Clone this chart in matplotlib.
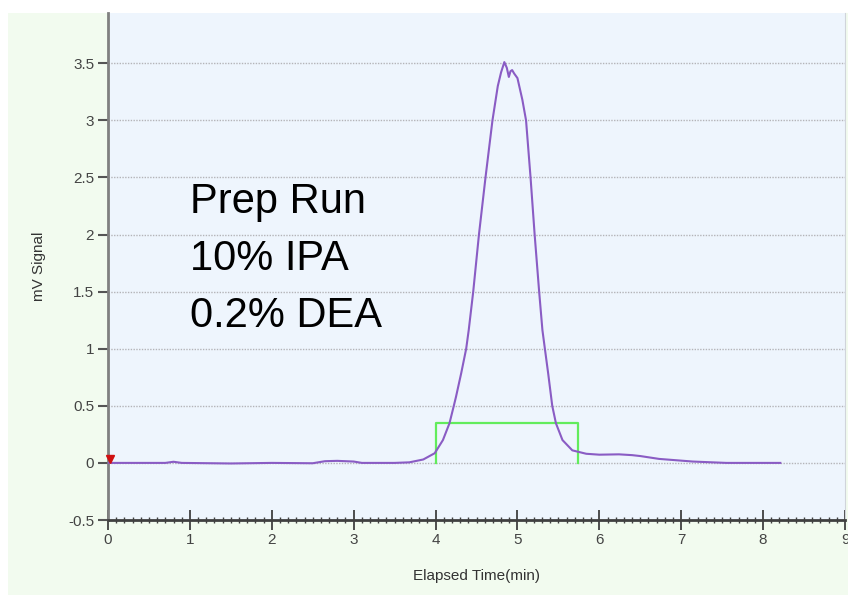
import matplotlib
matplotlib.use("Agg")
import matplotlib.pyplot as plt
from matplotlib.patches import Rectangle
from matplotlib.ticker import MultipleLocator, FuncFormatter

# chromatogram trace (elapsed time in min, signal in mV)
time_min = [0.0, 0.7, 0.8, 0.9, 1.5, 2.0, 2.5, 2.65, 2.8, 3.0, 3.1, 3.5,
            3.68, 3.85, 3.99, 4.09, 4.17, 4.223, 4.25, 4.313, 4.374, 4.405,
            4.46, 4.53, 4.61, 4.695, 4.76, 4.80, 4.84, 4.87, 4.895, 4.915,
            4.935, 4.96, 5.00, 5.06, 5.105, 5.16, 5.21, 5.265, 5.305, 5.335,
            5.375, 5.425, 5.47, 5.55, 5.67, 5.84, 6.0, 6.24, 6.4, 6.5, 6.73,
            7.14, 7.55, 8.0, 8.21]
signal_mv = [0.0, 0.0, 0.01, 0.0, -0.005, 0.0, -0.003, 0.015, 0.018, 0.012,
             0.0, 0.0, 0.005, 0.03, 0.085, 0.2, 0.347, 0.5, 0.58, 0.785, 1.0,
             1.163, 1.5, 2.0, 2.5, 3.0, 3.3, 3.42, 3.51, 3.46, 3.38, 3.43,
             3.44, 3.41, 3.37, 3.18, 3.0, 2.5, 2.0, 1.5, 1.163, 1.0, 0.785,
             0.5, 0.347, 0.2, 0.11, 0.08, 0.072, 0.075, 0.068, 0.06, 0.035,
             0.012, 0.0, 0.0, 0.0]

# collection window
frac_start = 4.0
frac_end = 5.735
frac_level = 0.35

notes = ["Prep Run", "10% IPA", "0.2% DEA"]

tick_font = ["Liberation Sans Narrow", "Liberation Sans", "DejaVu Sans"]

fig = plt.figure(figsize=(8.48, 6.01), dpi=100)
fig.patch.set_facecolor("white")
fig.patches.append(Rectangle((8 / 848, 6 / 601), 1 - 8 / 848, 582 / 601,
                             transform=fig.transFigure, facecolor="#f2fbef",
                             edgecolor="none", zorder=-10))

ax = fig.add_axes([108 / 848, 1 - 520 / 601, 737 / 848, 507 / 601])
ax.set_facecolor("#eef5fd")

ax.plot(time_min, signal_mv, color="#8a5cc4", lw=1.5, zorder=3)
ax.plot([frac_start, frac_start, frac_end, frac_end],
        [0, frac_level, frac_level, 0], color="#62ec5c", lw=1.6, zorder=2)
ax.plot([0.02], [0.03], marker="v", color="#d01010", ms=6, zorder=4,
        clip_on=False)

ax.set_xlim(0, 9)
ax.set_ylim(-0.5, 3.94)
ax.xaxis.set_major_locator(MultipleLocator(1))
ax.xaxis.set_minor_locator(MultipleLocator(0.1))
ax.yaxis.set_major_locator(MultipleLocator(0.5))
ax.yaxis.set_major_formatter(FuncFormatter(lambda v, p: "%g" % v))

ax.grid(axis="y", linestyle=(0, (1, 1)), color="#b4b4b8", lw=1)
ax.set_axisbelow(True)

ax.spines["top"].set_visible(False)
ax.spines["right"].set_color("#d0d4da")
ax.spines["left"].set_color("#808080")
ax.spines["left"].set_linewidth(2)
ax.spines["bottom"].set_color("#404040")
ax.spines["bottom"].set_linewidth(2)

ax.tick_params(axis="x", which="major", direction="inout", length=14, width=1.3,
               color="#404040", labelsize=11, labelcolor="#444444", pad=2)
ax.tick_params(axis="x", which="minor", direction="inout", length=5, width=1,
               color="#404040")
ax.tick_params(axis="y", direction="out", length=7, width=1.5, color="#555555",
               labelsize=11, labelcolor="#444444", pad=3)
for lab in ax.get_xticklabels() + ax.get_yticklabels():
    lab.set_family(tick_font)

ax.set_xlabel("Elapsed Time(min)", fontsize=11, color="#333333",
              family=tick_font, labelpad=16)
ax.set_ylabel("mV Signal", fontsize=11, color="#333333", family=tick_font,
              labelpad=16)

for i, line in enumerate(notes):
    ax.text(1.0, 2.187 - i * 0.499, line, fontsize=30, color="black",
            family=["Liberation Sans", "DejaVu Sans"], va="baseline", ha="left",
            zorder=5)

fig.savefig("out.png", dpi=100)
